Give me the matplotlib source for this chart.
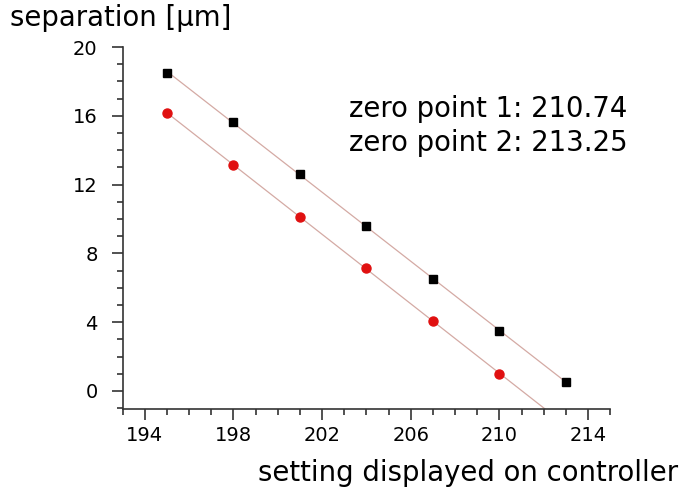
import matplotlib
matplotlib.use("Agg")
import matplotlib.pyplot as plt
import numpy as np
from matplotlib.ticker import MultipleLocator

setting_1 = [195, 198, 201, 204, 207, 210, 213]
sep_1 = [18.49, 15.64, 12.62, 9.59, 6.51, 3.49, 0.52]
setting_2 = [195, 198, 201, 204, 207, 210]
sep_2 = [16.16, 13.14, 10.12, 7.15, 4.07, 0.99]

zero_labels = ["zero point 1: 210.74", "zero point 2: 213.25"]

fig = plt.figure(figsize=(6.81, 4.90), dpi=100)
ax = fig.add_axes([0.180, 0.165, 0.716, 0.739])

line_col = "#d4aaa4"

# linear fits
p1 = np.polyfit(setting_1, sep_1, 1)
xs1 = np.array([setting_1[0], setting_1[-1]])
ax.plot(xs1, np.polyval(p1, xs1), color=line_col, lw=0.9, zorder=1)

p2 = np.polyfit(setting_2, sep_2, 1)
xs2 = np.array([setting_2[0], 215])
ax.plot(xs2, np.polyval(p2, xs2), color=line_col, lw=0.9, zorder=1)

ax.plot(setting_1, sep_1, "s", color="black", ms=5.5, zorder=3)
ax.plot(setting_2, sep_2, "o", color="#e01010", ms=6.5, zorder=3)

ax.set_xlim(193, 215)
ax.set_ylim(-1.06, 20)
ax.xaxis.set_minor_locator(MultipleLocator(1))
ax.yaxis.set_minor_locator(MultipleLocator(1))
ax.set_xticks(np.arange(194, 215, 4))
ax.set_yticks(np.arange(0, 21, 4))

for s in ["top", "right"]:
    ax.spines[s].set_visible(False)
for s in ["left", "bottom"]:
    ax.spines[s].set_color("#333333")
    ax.spines[s].set_linewidth(1.2)

ax.tick_params(which="major", length=8, width=1.2, labelsize=14, color="#333333")
ax.tick_params(which="minor", length=4, width=1.2, color="#333333")
ax.tick_params(axis="y", which="major", pad=10)
ax.tick_params(axis="x", which="major", pad=4)

fig.text(0.015, 0.963, "separation [µm]", fontsize=19.8, va="center", ha="left")
fig.text(0.996, 0.035, "setting displayed on controller", fontsize=19.8, va="center", ha="right")

fig.text(0.513, 0.777, zero_labels[0], fontsize=19.8, va="center", ha="left")
fig.text(0.513, 0.709, zero_labels[1], fontsize=19.8, va="center", ha="left")

fig.savefig("out.png", dpi=100)
